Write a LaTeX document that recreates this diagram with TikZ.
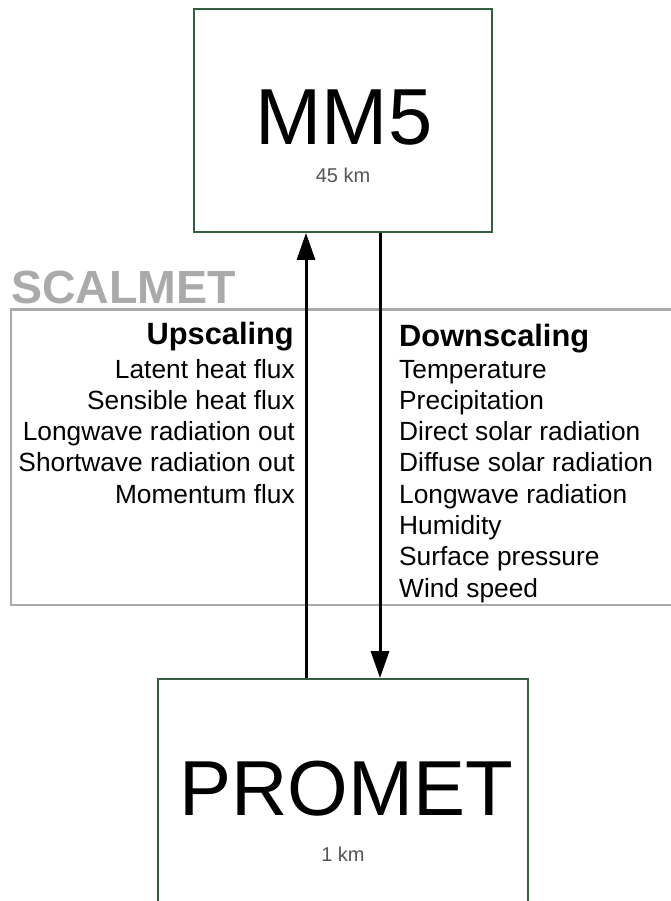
\documentclass[tikz,border=0pt]{standalone}
\usepackage{fontspec}
\setmainfont{Liberation Sans}
\usetikzlibrary{arrows.meta,calc}
\definecolor{boxgreen}{RGB}{52,94,64}
\definecolor{scalgray}{RGB}{170,170,170}
\definecolor{kmgray}{RGB}{85,85,85}
\begin{document}
\begin{tikzpicture}[x=1pt,y=-1pt,
  modelbox/.style={draw=boxgreen,line width=1.8pt,fill=none,inner sep=0pt},
  bigtxt/.style={inner sep=0pt,anchor=base,font=\fontsize{79.5}{90}\selectfont},
  kmtxt/.style={inner sep=0pt,anchor=base,text=kmgray,font=\fontsize{20}{23}\selectfont},
  headL/.style={inner sep=0pt,anchor=base east,font=\fontsize{30.8}{36}\selectfont\bfseries},
  headR/.style={inner sep=0pt,anchor=base west,font=\fontsize{30.8}{36}\selectfont\bfseries},
  itemL/.style={inner sep=0pt,anchor=base east,font=\fontsize{26.3}{31}\selectfont},
  itemR/.style={inner sep=0pt,anchor=base west,font=\fontsize{26.3}{31}\selectfont},
  arr/.style={line width=3pt,-{Triangle[length=27pt,width=18pt]}}]
\clip (0,0) rectangle (671,901);
\fill[white] (0,0) rectangle (671,901);
% SCALMET frame
\node[draw=scalgray,line width=2.8pt,inner sep=0pt,minimum width=680pt,minimum height=295.5pt,anchor=north west] (scal) at (9.5,308) {};
\node[inner sep=0pt,anchor=base west,text=scalgray,font=\fontsize{46.5}{52}\selectfont\bfseries] (scallbl) at (11,303) {SCALMET};
% model boxes
\node[modelbox,minimum width=298pt,minimum height=223pt] (mm5) at (343,120.5) {};
\node[bigtxt] (mm5t) at (344,145) {MM5};
\node[kmtxt] (mm5k) at (343,183) {45 km};
\node[modelbox,minimum width=370pt,minimum height=240pt] (promet) at (343,799) {};
\node[bigtxt,font=\fontsize{78}{90}\selectfont] (promt) at (346,815) {PROMET};
\node[kmtxt] (promk) at (343,861) {1 km};
% lists
\node[headL] (up) at (294,344) {Upscaling};
\node[itemL] (l1) at (295,378) {Latent heat flux};
\node[itemL] (l2) at (295,409.3) {Sensible heat flux};
\node[itemL] (l3) at (295,440.6) {Longwave radiation out};
\node[itemL] (l4) at (295,471.9) {Shortwave radiation out};
\node[itemL] (l5) at (295,503.2) {Momentum flux};
\node[headR] (down) at (399,346) {Downscaling};
\node[itemR] (r1) at (399,378) {Temperature};
\node[itemR] (r2) at (399,409.3) {Precipitation};
\node[itemR] (r3) at (399,440.6) {Direct solar radiation};
\node[itemR] (r4) at (399,471.9) {Diffuse solar radiation};
\node[itemR] (r5) at (399,503.2) {Longwave radiation};
\node[itemR] (r6) at (399,534.5) {Humidity};
\node[itemR] (r7) at (399,565.8) {Surface pressure};
\node[itemR] (r8) at (399,597.1) {Wind speed};
% arrows
\coordinate (upx) at (306,0);
\coordinate (dnx) at (380,0);
\draw[arr] (promet.north -| upx) -- (mm5.south -| upx);
\draw[arr] (mm5.south -| dnx) -- (promet.north -| dnx);
\end{tikzpicture}
\end{document}
